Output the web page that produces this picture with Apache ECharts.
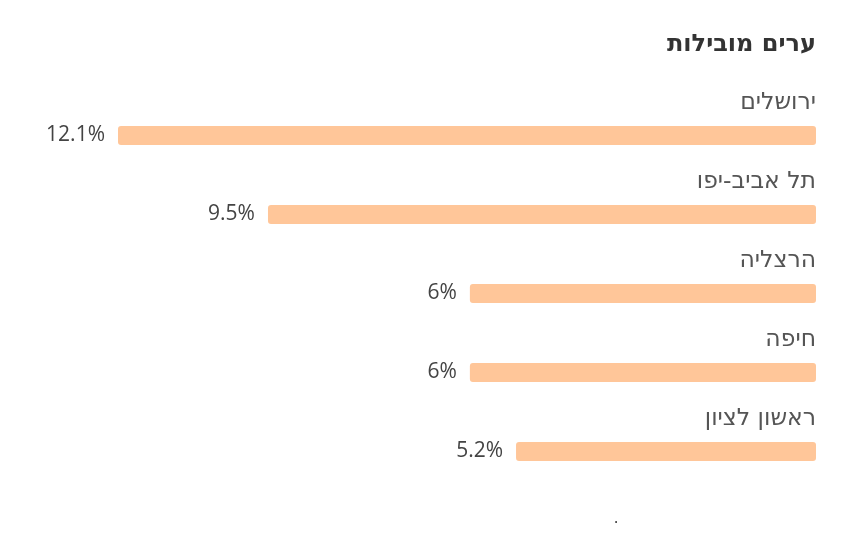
<!DOCTYPE html>
<html><head><meta charset="utf-8">
<script src="https://cdn.jsdelivr.net/npm/echarts@6/dist/echarts.min.js"></script>
<style>html,body{margin:0;padding:0;background:#fff}#c{width:844px;height:548px}</style>
</head><body><div id="c"></div>
<script>
const categories = ['ירושלים', 'תל אביב-יפו', 'הרצליה', 'חיפה', 'ראשון לציון'];
const values = [12.1, 9.5, 6, 6, 5.2];
const titleText = 'ערים מובילות';
const FONT = '"Open Sans", "DejaVu Sans", sans-serif';
const HFONT = '"DejaVu Sans", "Open Sans", sans-serif';

const chart = echarts.init(document.getElementById('c'));
chart.setOption({
  animation: false,
  title: {
    text: titleText, right: 28, top: 33, padding: 0,
    textStyle: { fontFamily: HFONT, fontSize: 24, fontWeight: 'bold', color: '#333' }
  },
  grid: { left: 118, right: 28, top: 96, height: 395 },
  xAxis: { type: 'value', inverse: true, min: 0, max: 12.1, show: false },
  yAxis: { type: 'category', data: categories, inverse: true, show: false },
  graphic: [{ type: 'text', left: 614, top: 510, style: { text: '.', fill: '#333', font: '16px ' + FONT } }],
  series: [
    {
      type: 'bar', data: values, barWidth: 19, itemStyle: { color: '#FFC699', borderRadius: 3 },
      label: {
        show: true, position: 'left', distance: 13, formatter: p => p.value + '%',
        fontFamily: FONT, fontSize: 21, color: '#444'
      }
    },
    {
      type: 'bar', data: values, barWidth: 19, barGap: '-100%', itemStyle: { color: 'transparent' },
      silent: true,
      label: {
        show: true, position: 'insideRight', distance: 0, offset: [0, -33],
        formatter: p => p.name, fontFamily: HFONT, fontSize: 23.5, color: '#555'
      }
    }
  ]
});
</script></body></html>
